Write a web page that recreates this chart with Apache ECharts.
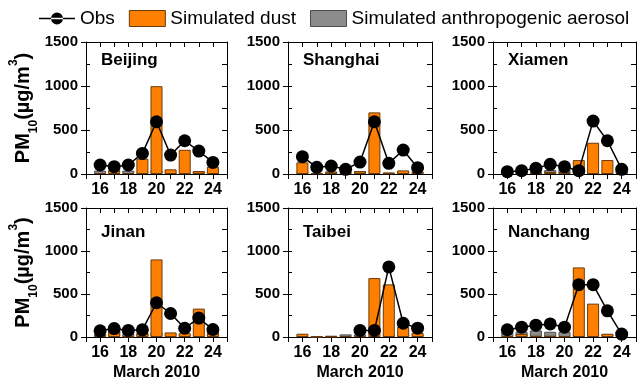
<!DOCTYPE html>
<html><head><meta charset="utf-8">
<script src="https://cdn.jsdelivr.net/npm/echarts@6/dist/echarts.min.js"></script>
<style>html,body{margin:0;padding:0;background:#fff}#c{width:640px;height:382px}</style>
</head><body><div id="c"></div>
<script>
const days = [16,17,18,19,20,21,22,23,24];
const stations = ['Beijing','Shanghai','Xiamen','Jinan','Taibei','Nanchang'];
const obsBeijing  = [102,83,102,234,593,215,378,261,132];
const obsShanghai = [197,76,91,53,136,593,121,272,72];
const obsXiamen   = [26,38,64,110,83,38,601,378,53];
const obsJinan    = [72,98,76,83,398,273,102,220,87];
const obsTaibei   = [null,null,null,null,76,76,815,160,103];
const obsNanchang = [84,114,137,152,114,608,608,304,34];
const dustBeijing  = [11,45,11,174,998,53,275,31,83];
const dustShanghai = [132,11,26,15,30,700,18,41,30];
const dustXiamen   = [3,26,22,23,23,158,355,159,38];
const dustJinan    = [23,76,4,46,902,53,45,330,37];
const dustTaibei   = [38,0,4,12,8,685,612,118,49];
const dustNanchang = [7,34,15,15,7,809,388,38,23];
const anthBeijing  = [38,8,38,23,42,19,8,34,27];
const anthShanghai = [27,8,27,23,34,11,8,27,23];
const anthXiamen   = [23,34,23,45,53,8,23,15,15];
const anthJinan    = [38,76,38,45,53,8,23,15,61];
const anthTaibei   = [15,8,15,30,30,15,23,30,23];
const anthNanchang = [61,61,76,61,61,23,30,30,23];

const obs = [obsBeijing,obsShanghai,obsXiamen,obsJinan,obsTaibei,obsNanchang];
const dust = [dustBeijing,dustShanghai,dustXiamen,dustJinan,dustTaibei,dustNanchang];
const anth = [anthBeijing,anthShanghai,anthXiamen,anthJinan,anthTaibei,anthNanchang];

const FONT = 'Liberation Sans, Arial, sans-serif';
const lefts = [86,288,493];
const widths = [141,144,143];
const tops = [42,208];
const H = 132;

const grids=[], xAxes=[], yAxes=[], series=[], graphics=[];
const yName = '{a|PM}{b|10}{a|(µg/m}{c|3}{a|)}';
for (let i=0;i<6;i++){
  const col=i%3,row=Math.floor(i/3);
  grids.push({left:lefts[col],top:tops[row],width:widths[col],height:H});
  const xb = xAxes.length;
  xAxes.push({type:'value',gridIndex:i,min:15,max:25,interval:1,position:'bottom',
    axisLine:{onZero:false,lineStyle:{color:'#000',width:1}},
    axisTick:{inside:false,length:5,lineStyle:{color:'#000'}},
    axisLabel:{margin:8,color:'#000',fontFamily:FONT,fontWeight:'bold',fontSize:16,
      formatter:v=>(v%2===0 && v>=16 && v<=24)?String(v):''},
    splitLine:{show:false},
    name: row===1?'March 2010':'', nameLocation:'middle', nameGap:28,
    nameTextStyle:{color:'#000',fontFamily:FONT,fontWeight:'bold',fontSize:16}});
  xAxes.push({type:'value',gridIndex:i,min:15,max:25,interval:1,position:'top',
    axisLine:{onZero:false,lineStyle:{color:'#000',width:1}},
    axisTick:{inside:true,length:5,lineStyle:{color:'#000'}},
    axisLabel:{show:false},splitLine:{show:false}});
  const yb = yAxes.length;
  yAxes.push({type:'value',gridIndex:i,min:0,max:1500,interval:500,position:'left',
    axisLine:{show:true,lineStyle:{color:'#000',width:1}},
    axisTick:{show:true,inside:false,length:5,lineStyle:{color:'#000'}},
    axisLabel:{margin:8,color:'#000',fontFamily:FONT,fontWeight:'bold',fontSize:15,formatter:v=>String(v)},
    splitLine:{show:false},
    name: col===0?yName:'', nameLocation:'middle', nameGap:53, nameRotate:90,
    nameTextStyle:{color:'#000',fontFamily:FONT,fontWeight:'bold',
      rich:{a:{fontSize:20,fontWeight:'bold',fontFamily:FONT,color:'#000'},
            b:{fontSize:12,fontWeight:'bold',fontFamily:FONT,color:'#000',verticalAlign:'bottom',padding:[0,0,-7,0]},
            c:{fontSize:12,fontWeight:'bold',fontFamily:FONT,color:'#000',verticalAlign:'top',padding:[-5,0,0,0]}}}});
  yAxes.push({type:'value',gridIndex:i,min:0,max:1500,interval:250,position:'left',
    axisLine:{show:false},axisTick:{show:true,inside:true,length:4,lineStyle:{color:'#000'}},
    axisLabel:{show:false},splitLine:{show:false}});
  yAxes.push({type:'value',gridIndex:i,min:0,max:1500,interval:250,position:'right',
    axisLine:{show:true,lineStyle:{color:'#000',width:1}},
    axisTick:{show:true,inside:true,length:5,lineStyle:{color:'#000'}},
    axisLabel:{show:false},splitLine:{show:false}});
  series.push({name:'Simulated anthropogenic aerosol',type:'bar',xAxisIndex:xb,yAxisIndex:yb,stack:'s'+i,
    barWidth:12,itemStyle:{color:'#8c8c8c',borderColor:'#4d4d4d',borderWidth:1},
    data:days.map((d,k)=>[d,anth[i][k]])});
  series.push({name:'Simulated dust',type:'bar',xAxisIndex:xb,yAxisIndex:yb,stack:'s'+i,
    barWidth:12,itemStyle:{color:'#ff8000',borderColor:'#6b3a0a',borderWidth:1},
    data:days.map((d,k)=>[d,dust[i][k]])});
  series.push({name:'Obs',type:'line',xAxisIndex:xb,yAxisIndex:yb,
    symbol:'circle',symbolSize:13,z:5,connectNulls:false,
    lineStyle:{color:'#000',width:1.5},itemStyle:{color:'#000'},
    data:days.map((d,k)=>[d,obs[i][k]])});
  graphics.push({type:'text',left:lefts[col]+15,top:tops[row]+10+(row===1?6:0),
    style:{text:stations[i],font:'bold 17px '+FONT,fill:'#000'}});
}

const chart = echarts.init(document.getElementById('c'),null,{renderer:'canvas'});
chart.setOption({
  animation:false,
  backgroundColor:'#fff',
  legend:{top:4,left:34,itemGap:14,itemWidth:36,itemHeight:16,
    data:[{name:'Obs',icon:'path://M0,7.3 L36,7.3 L36,8.7 L0,8.7 Z M12,8 A6,6 0 1 0 24,8 A6,6 0 1 0 12,8 Z'},
          {name:'Simulated dust',icon:'rect',itemStyle:{borderColor:'#6b3a0a',borderWidth:1}},
          {name:'Simulated anthropogenic aerosol',icon:'rect',itemStyle:{borderColor:'#4d4d4d',borderWidth:1}}],
    textStyle:{color:'#000',fontFamily:FONT,fontSize:19}},
  grid:grids,xAxis:xAxes,yAxis:yAxes,series:series,graphic:graphics
});
</script></body></html>
